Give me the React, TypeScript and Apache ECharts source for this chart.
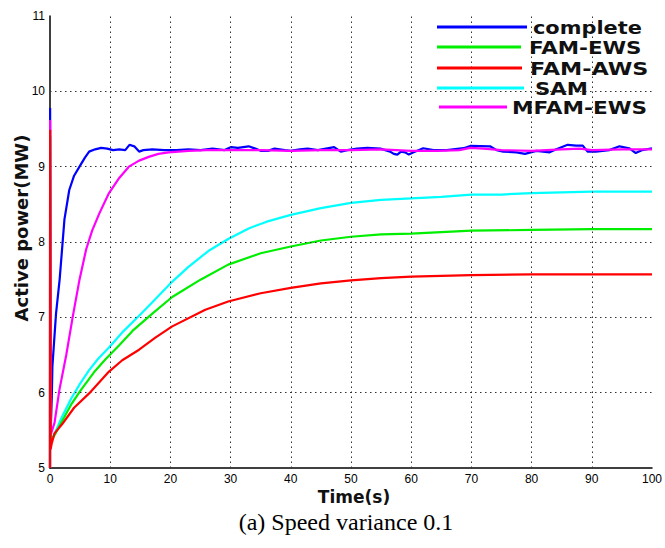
import React, { useEffect, useRef } from "react";
import * as echarts from "echarts";

// ---- data: [time (s), active power (MW)] ----
const completeData: [number, number][] = [
  [0, 5], [0.02, 9.78], [0.12, 5.5], [0.3, 5.95], [0.4, 6.35], [1.0, 7.05], [1.6, 7.5], [2.4, 8.3],
  [3.2, 8.69], [4.0, 8.88], [4.9, 9.0], [5.8, 9.12], [6.5, 9.2], [7.5, 9.23], [8.5, 9.25], [9.5, 9.24],
  [10.5, 9.22], [11.5, 9.23], [12.5, 9.22], [13.2, 9.29], [14, 9.27], [14.8, 9.2], [15.5, 9.22],
  [17, 9.23], [19, 9.22], [21, 9.22], [23, 9.23], [25, 9.22], [27, 9.24], [29, 9.22], [30.1, 9.26],
  [31.2, 9.25], [33, 9.27], [34.1, 9.24], [35, 9.21], [36.2, 9.21], [37.3, 9.24], [39, 9.22],
  [40, 9.21], [41.5, 9.23], [42.8, 9.24], [44.5, 9.22], [47.2, 9.26], [48.3, 9.2], [49.4, 9.22],
  [51, 9.24], [52.7, 9.25], [54.9, 9.24], [56.5, 9.2], [57.1, 9.17], [57.7, 9.16], [58.3, 9.2],
  [59, 9.19], [59.6, 9.16], [60.4, 9.19], [62, 9.245], [63.7, 9.22], [65.9, 9.22], [68.7, 9.245],
  [69.8, 9.275], [73.1, 9.27], [74.2, 9.22], [75.3, 9.2], [77.5, 9.19], [78.9, 9.17], [80.8, 9.21],
  [83, 9.19], [84.1, 9.23], [86, 9.29], [87.4, 9.28], [88.5, 9.28], [89.3, 9.2], [90.7, 9.2],
  [92.9, 9.22], [94.6, 9.27], [96.2, 9.245], [97.3, 9.18], [98.4, 9.22], [100, 9.245],
];

const famEwsData: [number, number][] = [
  [0, 5], [0.02, 9.4], [0.12, 5.3], [0.3, 5.38], [1, 5.47], [2, 5.62], [3.5, 5.84], [5, 6.02],
  [7.3, 6.27], [9.3, 6.45], [11.5, 6.63], [13.7, 6.82], [17, 7.05], [20.3, 7.27], [25, 7.5],
  [29.6, 7.7], [35, 7.85], [40, 7.94], [45, 8.02], [50, 8.07], [55, 8.1], [60, 8.11], [65, 8.13],
  [70, 8.15], [80, 8.16], [90, 8.17], [100, 8.17],
];

const famAwsData: [number, number][] = [
  [0, 5], [0.02, 9.49], [0.1, 5.25], [0.3, 5.33], [0.75, 5.46], [2, 5.58], [4, 5.8], [6.5, 5.99],
  [9.8, 6.28], [12, 6.43], [14.8, 6.57], [17.5, 6.73], [20.3, 6.88], [25.8, 7.1], [29.6, 7.21],
  [35, 7.32], [40, 7.39], [45, 7.45], [50, 7.49], [55, 7.52], [60, 7.54], [65, 7.55], [70, 7.56],
  [80, 7.57], [90, 7.57], [100, 7.57],
];

const samData: [number, number][] = [
  [0, 5], [0.02, 9.4], [0.12, 5.3], [0.3, 5.38], [1, 5.5], [2, 5.68], [3.5, 5.92], [5, 6.12],
  [6.5, 6.3], [8, 6.45], [9.8, 6.6], [12, 6.8], [14.8, 7.02], [17, 7.2], [20, 7.45], [23, 7.67],
  [26.3, 7.88], [29.6, 8.04], [33, 8.18], [36, 8.27], [40, 8.36], [45, 8.45], [50, 8.52],
  [55, 8.56], [60, 8.58], [65, 8.6], [70, 8.63], [75, 8.63], [80, 8.65], [85, 8.66], [90, 8.67],
  [95, 8.67], [100, 8.67],
];

const mfamEwsData: [number, number][] = [
  [0, 5], [0.02, 9.62], [0.15, 5.45], [0.75, 5.6], [1.57, 6.04], [2.7, 6.5], [3.76, 7.0],
  [4.9, 7.5], [6, 7.9], [7, 8.15], [8.2, 8.38], [9.8, 8.65], [11.5, 8.85], [13.1, 9.0],
  [14.8, 9.08], [16.4, 9.13], [18, 9.17], [19.7, 9.19], [23, 9.21], [26, 9.22], [30, 9.22],
  [35, 9.22], [40, 9.21], [45, 9.22], [50, 9.22], [55, 9.23], [60, 9.21], [64.3, 9.21], [68, 9.22],
  [69.8, 9.25], [72, 9.24], [75, 9.22], [80, 9.21], [85, 9.23], [88, 9.24], [90, 9.22], [95, 9.23],
  [100, 9.23],
];

const legendNames = ["complete", "FAM-EWS", "FAM-AWS", "SAM", "MFAM-EWS"];
const seriesColors = ["#0000ff", "#00ee00", "#ff0000", "#00ffff", "#ff00ff"];

// interior grid-line positions (no line at the top / right edge)
const xGridValues = [10, 20, 30, 40, 50, 60, 70, 80, 90];
const yGridValues = [6, 7, 8, 9, 10];

export default function App() {
  const ref = useRef<HTMLDivElement>(null);

  useEffect(() => {
    if (!ref.current) return;
    const chart = echarts.init(ref.current, null, { renderer: "svg" });

    const mkSeries = (name: string, data: [number, number][], color: string, z: number) => ({
      name,
      type: "line",
      data,
      showSymbol: false,
      symbol: "none",
      clip: false,
      z,
      lineStyle: { color, width: 2.2 },
      itemStyle: { color },
    });

    const legendLines = [
      { x1: 437, x2: 527, y: 27, tx: 533, sx: 1.16 },
      { x1: 437, x2: 521, y: 47, tx: 529, sx: 1.19 },
      { x1: 437, x2: 522, y: 68, tx: 530, sx: 1.24 },
      { x1: 437, x2: 524, y: 88, tx: 535, sx: 1.18 },
      { x1: 439, x2: 507, y: 107, tx: 512, sx: 1.2 },
    ];
    const legendGraphics: any[] = [];
    legendLines.forEach((l, i) => {
      legendGraphics.push({
        type: "line",
        shape: { x1: l.x1, y1: l.y, x2: l.x2, y2: l.y },
        style: { stroke: seriesColors[i], lineWidth: 3 },
        z: 100,
      });
      legendGraphics.push({
        type: "text",
        x: l.tx,
        y: l.y + 1,
        scaleX: l.sx,
        z: 100,
        style: {
          text: legendNames[i],
          fill: "#111",
          font: "bold 18px 'DejaVu Sans'",
          textAlign: "left",
          textVerticalAlign: "middle",
        },
      });
    });

    const gridLineStyle = { color: "#333", type: [1.5, 3.5], width: 1 };

    chart.setOption({
      animation: false,
      backgroundColor: "#ffffff",
      grid: { left: 50, right: 8, top: 16, bottom: 80, containLabel: false },
      xAxis: {
        type: "value",
        min: 0,
        max: 100,
        interval: 10,
        axisLine: { show: true, lineStyle: { color: "#000", width: 1.5 } },
        axisTick: { show: false },
        axisLabel: { color: "#000", fontSize: 12, fontFamily: "Liberation Sans", margin: 5 },
        splitLine: { show: false },
      },
      yAxis: {
        type: "value",
        min: 5,
        max: 11,
        interval: 1,
        axisLine: { show: true, lineStyle: { color: "#000", width: 1.5 } },
        axisTick: { show: false },
        axisLabel: { color: "#000", fontSize: 12, fontFamily: "Liberation Sans", margin: 5 },
        splitLine: { show: false },
      },
      series: [
        {
          name: "grid",
          type: "line",
          data: [],
          z: 1,
          silent: true,
          markLine: {
            silent: true,
            symbol: ["none", "none"],
            label: { show: false },
            lineStyle: gridLineStyle,
            emphasis: { disabled: true },
            data: [
              ...xGridValues.map((v) => ({ xAxis: v })),
              ...yGridValues.map((v) => ({ yAxis: v })),
            ],
          },
        },
        mkSeries(legendNames[0], completeData, seriesColors[0], 2),
        mkSeries(legendNames[3], samData, seriesColors[3], 3),
        mkSeries(legendNames[1], famEwsData, seriesColors[1], 4),
        mkSeries(legendNames[4], mfamEwsData, seriesColors[4], 5),
        mkSeries(legendNames[2], famAwsData, seriesColors[2], 6),
      ],
      graphic: [
        ...legendGraphics,
        {
          type: "text",
          x: 21,
          y: 228,
          rotation: Math.PI / 2,
          style: {
            text: "Active power(MW)",
            fill: "#111",
            font: "bold 18px 'DejaVu Sans'",
            textAlign: "center",
            textVerticalAlign: "middle",
          },
        },
        {
          type: "text",
          x: 354,
          y: 497,
          style: {
            text: "Time(s)",
            fill: "#111",
            font: "bold 17px 'DejaVu Sans'",
            textAlign: "center",
            textVerticalAlign: "middle",
          },
        },
        {
          type: "text",
          x: 346,
          y: 522,
          style: {
            text: "(a) Speed variance 0.1",
            fill: "#000",
            font: "24px 'Liberation Serif'",
            textAlign: "center",
            textVerticalAlign: "middle",
          },
        },
      ],
    });

    return () => chart.dispose();
  }, []);

  return (
    <div
      ref={ref}
      style={{ position: "fixed", left: 0, top: 0, width: 665, height: 548, background: "#fff" }}
    />
  );
}
